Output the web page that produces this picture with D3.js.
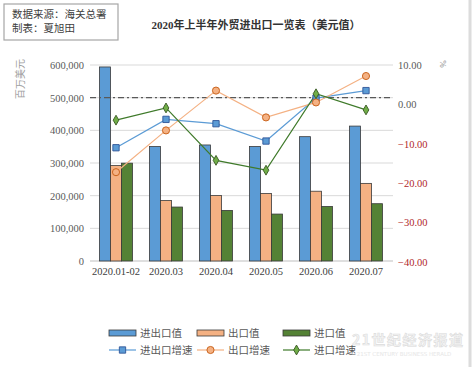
<!DOCTYPE html>
<html><head><meta charset="utf-8">
<script src="https://cdn.jsdelivr.net/npm/d3@7"></script>
<style>body{margin:0;background:#fff}svg{display:block}</style>
</head><body>
<script>
const categories = ["2020.01-02","2020.03","2020.04","2020.05","2020.06","2020.07"];
const totalValue  = [594000, 350400, 355200, 350500, 380600, 413000];
const exportValue = [292500, 185200, 200300, 206800, 213600, 237600];
const importValue = [299500, 165200, 154900, 143700, 167000, 175400];
const totalGrowth  = [-11.0, -3.8, -4.9, -9.3, 1.6, 3.5];
const exportGrowth = [-17.2, -6.6, 3.5, -3.3, 0.5, 7.2];
const importGrowth = [-4.0, -0.9, -14.2, -16.7, 2.7, -1.4];
const leftTicks = [0,100000,200000,300000,400000,500000,600000];
const rightTicks = [-40,-30,-20,-10,0,10];
const barNames = ["进出口值","出口值","进口值"];
const lineNames = ["进出口增速","出口增速","进口增速"];

const W=474,H=367;
const svg=d3.select("body").append("svg").attr("width",W).attr("height",H);
const serif="'Liberation Serif','Times New Roman','Noto Sans CJK SC',serif";
const cjk="'Noto Sans CJK SC','Noto Sans',sans-serif";

const x=d3.scaleBand().domain(categories).range([91,391]).padding(0);
const xs=d3.scaleBand().domain([0,1,2]).range([0,x.bandwidth()]).paddingInner(0).paddingOuter(0.77);
const yL=d3.scaleLinear().domain([0,600000]).range([261,65]);
const yR=d3.scaleLinear().domain([-40,10]).range([262,65]);

// right border
svg.append("line").attr("x1",470).attr("x2",470).attr("y1",0).attr("y2",H).attr("stroke","#dcdcdc").attr("stroke-width",3);

// gridlines
svg.append("g").selectAll("line").data(leftTicks).join("line")
  .attr("x1",90).attr("x2",393).attr("y1",d=>yL(d)).attr("y2",d=>yL(d))
  .attr("stroke",d=>d===0?"#bfbfbf":"#d9d9d9").attr("stroke-width",1);

// left axis
const gl=svg.append("g").attr("transform","translate(84,0)")
  .call(d3.axisLeft(yL).tickValues(leftTicks).tickSize(0).tickPadding(0).tickFormat(d3.format(",")));
gl.select(".domain").remove();
gl.selectAll("text").attr("font-family",serif).attr("font-size",10.5).attr("fill","#595959");

// right axis
const gr=svg.append("g").attr("transform","translate(398,0)")
  .call(d3.axisRight(yR).tickValues(rightTicks).tickSize(0).tickPadding(0).tickFormat(d3.format(".2f")));
gr.select(".domain").remove();
gr.selectAll("text").attr("font-family",serif).attr("font-size",10.5)
  .attr("fill",d=>d<0?"#b0272a":"#595959");

// x axis labels
const gx=svg.append("g").attr("transform","translate(0,268)")
  .call(d3.axisBottom(x).tickSize(0).tickPadding(0));
gx.select(".domain").remove();
gx.selectAll("text").attr("font-family",serif).attr("font-size",10.5).attr("fill","#404040");

// axis titles
svg.append("text").attr("transform","translate(24,79) rotate(-90)").attr("text-anchor","middle")
  .attr("font-family",cjk).attr("font-size",10).attr("fill","#a0a0a0").text("百万美元");
svg.append("text").attr("transform","translate(446,64) rotate(-90)").attr("text-anchor","middle")
  .attr("font-family",serif).attr("font-size",9).attr("fill","#8c8c8c").text("%");

// bars
const barColors=["#5B9BD5","#F4B183","#548235"];
const barData=[totalValue,exportValue,importValue];
barData.forEach((arr,si)=>{
  svg.append("g").selectAll("rect").data(arr).join("rect")
    .attr("x",(d,i)=>x(categories[i])+xs(si)).attr("width",xs.bandwidth())
    .attr("y",d=>yL(d)).attr("height",d=>yL(0)-yL(d))
    .attr("fill",barColors[si]).attr("stroke","#3a3a3a").attr("stroke-width",0.8);
});

// dashed reference line
svg.append("line").attr("x1",90).attr("x2",393).attr("y1",yL(500000)).attr("y2",yL(500000))
  .attr("stroke","#595959").attr("stroke-width",1.2).attr("stroke-dasharray","6,3,2,3");

// lines
const cx=i=>x(categories[i])+x.bandwidth()/2;
const lineSpecs=[
  {data:totalGrowth,line:"#5B9BD5",fill:"#5B9BD5",stroke:"#2F5597",sym:d3.symbolSquare,size:40},
  {data:exportGrowth,line:"#F4B183",fill:"#F4B183",stroke:"#C55A11",sym:d3.symbolCircle,size:40},
  {data:importGrowth,line:"#3f7a2a",fill:"#70AD47",stroke:"#385723",sym:d3.symbolDiamond,size:28}
];
const lg=d3.line().x((d,i)=>cx(i)).y(d=>yR(d));
lineSpecs.forEach(s=>{
  svg.append("path").datum(s.data).attr("d",lg).attr("fill","none").attr("stroke",s.line).attr("stroke-width",1.2);
});
lineSpecs.forEach(s=>{
  svg.append("g").selectAll("path").data(s.data).join("path")
    .attr("transform",(d,i)=>`translate(${cx(i)},${yR(d)})`)
    .attr("d",d3.symbol().type(s.sym).size(s.size))
    .attr("fill",s.fill).attr("stroke",s.stroke).attr("stroke-width",0.9);
});

// title
svg.append("text").attr("x",256).attr("y",29).attr("text-anchor","middle")
  .attr("font-family",serif).attr("font-weight","bold").attr("font-size",11).attr("fill","#333")
  .text("2020年上半年外贸进出口一览表（美元值）");

// source box
svg.append("rect").attr("x",4).attr("y",4).attr("width",114).attr("height",36)
  .attr("fill","#fff").attr("stroke","#a6a6a6").attr("stroke-width",1.2);
svg.append("text").attr("x",12).attr("y",18).attr("font-family",cjk).attr("font-size",10.5).attr("fill","#404040").text("数据来源：海关总署");
svg.append("text").attr("x",12).attr("y",32).attr("font-family",cjk).attr("font-size",10.5).attr("fill","#404040").text("制表：夏旭田");

// legend
const legX=[109,197,283];
barNames.forEach((n,i)=>{
  svg.append("rect").attr("x",legX[i]).attr("y",330).attr("width",27).attr("height",6)
    .attr("fill",barColors[i]).attr("stroke","#3a3a3a").attr("stroke-width",0.8);
  svg.append("text").attr("x",legX[i]+31).attr("y",337).attr("font-family",cjk).attr("font-size",10.5).attr("fill","#595959").text(n);
});
lineNames.forEach((n,i)=>{
  const s=lineSpecs[i];
  svg.append("line").attr("x1",legX[i]).attr("x2",legX[i]+27).attr("y1",350).attr("y2",350).attr("stroke",s.line).attr("stroke-width",1.2);
  svg.append("path").attr("transform",`translate(${legX[i]+13.5},350)`).attr("d",d3.symbol().type(s.sym).size(s.size))
    .attr("fill",s.fill).attr("stroke",s.stroke).attr("stroke-width",0.9);
  svg.append("text").attr("x",legX[i]+31).attr("y",354).attr("font-family",cjk).attr("font-size",10.5).attr("fill","#595959").text(n);
});

// watermark
svg.append("text").attr("x",352).attr("y",345).attr("text-anchor","start")
  .attr("font-family",cjk).attr("font-weight","bold").attr("font-size",14).attr("letter-spacing",1.5)
  .attr("fill","#f4f4f4").attr("stroke","#dcdcdc").attr("stroke-width",0.6).text("21世纪经济报道");
svg.append("text").attr("x",404).attr("y",356).attr("text-anchor","middle")
  .attr("font-family","'DejaVu Sans',sans-serif").attr("font-size",5.5)
  .attr("fill","#e6e6e6").text("21ST CENTURY BUSINESS HERALD");
</script>
</body></html>
